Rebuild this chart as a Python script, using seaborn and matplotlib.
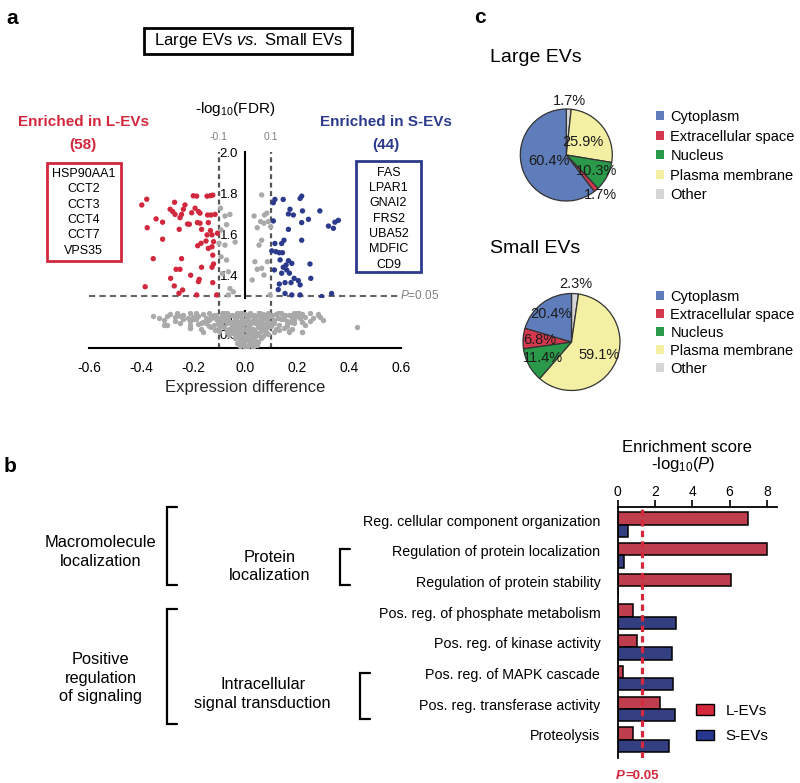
import numpy as np
import pandas as pd
import matplotlib
matplotlib.use("Agg")
import matplotlib.pyplot as plt
import matplotlib.transforms as mtransforms
from matplotlib import font_manager
from matplotlib.patches import Rectangle, Patch
from matplotlib.lines import Line2D
import seaborn as sns

# ---------------- data ----------------
# volcano plot (a): upper part (-log10 FDR > 1.3)
red_x = [-0.397, -0.378, -0.376, -0.342, -0.317, -0.317, -0.353, -0.384, -0.288, -0.278, -0.271, -0.269,
         -0.253, -0.250, -0.244, -0.237, -0.231, -0.244, -0.265, -0.250, -0.286, -0.272, -0.254, -0.240,
         -0.209, -0.221, -0.214, -0.199, -0.186, -0.205, -0.192, -0.179, -0.173, -0.183, -0.173, -0.167,
         -0.182, -0.169, -0.150, -0.176, -0.179, -0.167, -0.186, -0.146, -0.133, -0.124, -0.144, -0.131,
         -0.115, -0.141, -0.133, -0.146, -0.127, -0.106, -0.141, -0.127, -0.124, -0.121, -0.127, -0.124,
         -0.109, -0.121]
red_y = [1.743, 1.771, 1.632, 1.675, 1.659, 1.576, 1.481, 1.344, 1.722, 1.711, 1.756, 1.697,
         1.624, 1.681, 1.697, 1.722, 1.743, 1.481, 1.429, 1.429, 1.385, 1.348, 1.312, 1.328,
         1.400, 1.650, 1.649, 1.788, 1.786, 1.705, 1.727, 1.711, 1.703, 1.657, 1.654, 1.624,
         1.544, 1.556, 1.567, 1.380, 1.369, 1.439, 1.304, 1.786, 1.788, 1.791, 1.694, 1.694,
         1.697, 1.657, 1.618, 1.597, 1.597, 1.605, 1.531, 1.539, 1.498, 1.455, 1.439, 1.364,
         1.304, 1.564]
blue_x = [0.109, 0.115, 0.147, 0.212, 0.218, 0.173, 0.167, 0.186, 0.221, 0.244, 0.288, 0.218, 0.109,
          0.321, 0.340, 0.346, 0.359, 0.167, 0.218, 0.115, 0.150, 0.141, 0.103, 0.119, 0.132, 0.144,
          0.135, 0.167, 0.180, 0.158, 0.250, 0.147, 0.113, 0.160, 0.141, 0.171, 0.189, 0.205, 0.253,
          0.154, 0.132, 0.177, 0.212, 0.128, 0.154, 0.180, 0.212, 0.333, 0.295]
blue_y = [1.754, 1.770, 1.770, 1.775, 1.786, 1.722, 1.699, 1.694, 1.714, 1.673, 1.714, 1.657, 1.665,
          1.640, 1.629, 1.659, 1.668, 1.624, 1.571, 1.555, 1.571, 1.555, 1.519, 1.515, 1.510, 1.510,
          1.475, 1.471, 1.458, 1.450, 1.455, 1.439, 1.426, 1.426, 1.410, 1.410, 1.385, 1.374, 1.385,
          1.364, 1.357, 1.364, 1.353, 1.330, 1.311, 1.304, 1.304, 1.311, 1.296]
gray_up_x = [-0.094, -0.077, -0.058, -0.071, -0.092, -0.100, -0.077, -0.092, -0.071, -0.064, -0.087,
             -0.058, -0.045, -0.038, -0.064, 0.064, 0.035, 0.075, 0.084, 0.060, 0.073, 0.090, 0.047,
             0.099, 0.054, 0.064, 0.038, 0.047, 0.064, 0.073, 0.028, 0.086, 0.096]
gray_up_y = [1.727, 1.689, 1.697, 1.647, 1.621, 1.556, 1.547, 1.490, 1.474, 1.417, 1.408,
             1.335, 1.319, 1.562, 1.304, 1.792, 1.689, 1.694, 1.703, 1.662, 1.654, 1.662, 1.632,
             1.637, 1.547, 1.571, 1.466, 1.429, 1.434, 1.401, 1.377, 1.466, 1.304]

# lower part (-log10 FDR < 1.3), non-significant proteins
gray_lo_x_rows = [
    [-0.29, -0.26, -0.24, -0.21, -0.19, -0.16, -0.14, -0.12, -0.09, -0.07, -0.05, -0.03, 0.0, 0.02, 0.05,
     0.07, 0.09, 0.12, 0.14, 0.17, 0.19, 0.22, 0.25, 0.28],
    [-0.33, -0.30, -0.27, -0.25, -0.22, -0.20, -0.18, -0.15, -0.13, -0.10, -0.08, -0.06, -0.04, -0.02, 0.01,
     0.03, 0.06, 0.08, 0.10, 0.13, 0.15, 0.18, 0.20, 0.23, 0.26, 0.29],
    [-0.31, -0.27, -0.24, -0.21, -0.19, -0.16, -0.14, -0.11, -0.09, -0.07, -0.05, -0.03, -0.01, 0.01, 0.03,
     0.05, 0.07, 0.09, 0.11, 0.14, 0.16, 0.19, 0.22, 0.25],
    [-0.30, -0.25, -0.21, -0.18, -0.15, -0.12, -0.10, -0.07, -0.05, -0.03, -0.01, 0.0, 0.02, 0.04, 0.06,
     0.08, 0.11, 0.13, 0.16, 0.19, 0.23],
    [-0.21, -0.17, -0.13, -0.10, -0.08, -0.06, -0.04, -0.02, 0.0, 0.01, 0.03, 0.05, 0.07, 0.09, 0.12, 0.15, 0.18],
    [-0.16, -0.10, -0.07, -0.05, -0.03, -0.01, 0.01, 0.02, 0.04, 0.06, 0.08, 0.11, 0.17, 0.22],
    [-0.06, -0.04, -0.02, -0.01, 0.0, 0.02, 0.03, 0.05, 0.07, 0.09],
    [-0.04, -0.02, -0.01, 0.01, 0.02, 0.04, 0.06],
    [-0.03, -0.01, 0.0, 0.02, 0.03, 0.05],
    [-0.02, 0.0, 0.01, 0.03],
    [-0.353, -0.31, 0.43, 0.282, 0.30, 0.17, 0.22, -0.21],
    [-0.11, -0.085, -0.06, -0.035, -0.015, 0.01, 0.035, 0.055, 0.08, 0.105, 0.13, 0.155, 0.18, 0.205],
    [-0.20, -0.17, -0.13, -0.105, -0.08, -0.055, -0.035, -0.015, 0.005, 0.02, 0.04, 0.065, 0.085, 0.10,
     0.125, 0.15, 0.175, 0.21],
    [-0.14, -0.115, -0.09, -0.07, -0.05, -0.03, -0.015, 0.005, 0.015, 0.035, 0.055, 0.075, 0.10, 0.13, 0.16],
    [-0.05, -0.03, -0.015, 0.0, 0.015, 0.035, 0.045, 0.06, 0.08],
    [-0.02, 0.0, 0.015, 0.035, 0.045],
]
gray_lo_y_rows = [
    [1.24, 1.28, 1.22, 1.26, 1.29, 1.23, 1.27, 1.21, 1.25, 1.29, 1.22, 1.26, 1.24, 1.28, 1.21,
     1.25, 1.29, 1.23, 1.27, 1.22, 1.26, 1.24, 1.28, 1.21],
    [1.10, 1.16, 1.12, 1.18, 1.09, 1.14, 1.17, 1.11, 1.15, 1.08, 1.13, 1.17, 1.10, 1.15, 1.12,
     1.18, 1.09, 1.14, 1.16, 1.11, 1.17, 1.10, 1.15, 1.12, 1.08, 1.14],
    [1.02, 0.97, 1.04, 0.99, 1.05, 0.96, 1.01, 1.04, 0.98, 1.03, 0.95, 1.00, 1.05, 0.97, 1.02,
     0.99, 1.04, 0.96, 1.01, 1.05, 0.98, 1.03, 0.96, 1.00],
    [0.85, 0.90, 0.84, 0.88, 0.92, 0.83, 0.87, 0.91, 0.85, 0.89, 0.82, 0.90, 0.86, 0.92, 0.84,
     0.88, 0.91, 0.83, 0.87, 0.90, 0.85],
    [0.74, 0.70, 0.77, 0.72, 0.76, 0.69, 0.74, 0.78, 0.71, 0.75, 0.68, 0.77, 0.72, 0.75, 0.70, 0.74, 0.71],
    [0.60, 0.62, 0.57, 0.63, 0.59, 0.64, 0.56, 0.61, 0.58, 0.63, 0.60, 0.57, 0.62, 0.59],
    [0.48, 0.52, 0.45, 0.50, 0.43, 0.51, 0.46, 0.49, 0.44, 0.50],
    [0.35, 0.30, 0.38, 0.33, 0.37, 0.31, 0.36],
    [0.20, 0.15, 0.24, 0.18, 0.13, 0.22],
    [0.06, 0.02, 0.09, 0.04],
    [1.18, 0.84, 0.78, 1.23, 1.03, 0.60, 0.60, 0.74],
    [1.19, 1.30, 1.20, 1.19, 1.30, 1.19, 1.20, 1.30, 1.19, 1.21, 1.30, 1.19, 1.20, 1.30],
    [1.07, 0.93, 1.08, 0.93, 1.07, 0.92, 1.08, 0.93, 1.07, 0.94, 1.08, 0.93, 1.07, 0.93, 1.08, 1.07,
     0.94, 1.08],
    [0.80, 0.66, 0.81, 0.66, 0.80, 0.66, 0.80, 0.65, 0.81, 0.66, 0.80, 0.66, 0.79, 0.67, 0.80],
    [0.54, 0.40, 0.55, 0.41, 0.55, 0.40, 0.55, 0.41, 0.54],
    [0.27, 0.10, 0.28, 0.26, 0.11],
]
x_ticks = [-0.6, -0.4, -0.2, 0.0, 0.2, 0.4, 0.6]
x_tick_labels = ["-0.6", "-0.4", "-0.2", "0.0", "0.2", "0.4", "0.6"]
y_up_ticks = [1.4, 1.6, 1.8, 2.0]
y_lo_ticks = [0.5, 1.0]
l_genes = ["HSP90AA1", "CCT2", "CCT3", "CCT4", "CCT7", "VPS35"]
s_genes = ["FAS", "LPAR1", "GNAI2", "FRS2", "UBA52", "MDFIC", "CD9"]
n_l, n_s = 58, 44

# pie charts (c): wedge order clockwise from 12 o'clock
loc_names = ["Other", "Plasma membrane", "Nucleus", "Extracellular space", "Cytoplasm"]
legend_names = ["Cytoplasm", "Extracellular space", "Nucleus", "Plasma membrane", "Other"]
large_pct = [1.7, 25.9, 10.3, 1.7, 60.4]
small_pct = [2.3, 59.1, 11.4, 6.8, 20.4]

# GO enrichment (b)
terms = ["Reg. cellular component organization", "Regulation of protein localization",
         "Regulation of protein stability", "Pos. reg. of phosphate metabolism",
         "Pos. reg. of kinase activity", "Pos. reg. of MAPK cascade",
         "Pos. reg. transferase activity", "Proteolysis"]
score_l = [7.0, 8.0, 6.07, 0.84, 1.02, 0.27, 2.27, 0.80]
score_s = [0.57, 0.36, 0.0, 3.13, 2.90, 2.99, 3.08, 2.76]
bar_ticks = [0, 2, 4, 6, 8]
p_thresh = 1.3

# ---------------- style ----------------
sns.set_theme(style="white")
plt.rcParams["font.family"] = ["Liberation Sans", "DejaVu Sans"]
plt.rcParams["mathtext.fontset"] = "custom"
plt.rcParams["mathtext.rm"] = "Liberation Sans"
plt.rcParams["mathtext.it"] = "Liberation Sans:italic"
plt.rcParams["mathtext.bf"] = "Liberation Sans:bold"
plt.rcParams["axes.edgecolor"] = "black"
plt.rcParams["xtick.color"] = "black"
plt.rcParams["ytick.color"] = "black"
plt.rcParams["text.color"] = "black"

names = {f.name for f in font_manager.fontManager.ttflist}
HAS_NARROW = "Liberation Sans Narrow" in names
NARROW = ["Liberation Sans Narrow", "DejaVu Sans"] if HAS_NARROW else ["Liberation Sans", "DejaVu Sans"]
NS = 1.0 if HAS_NARROW else 0.82

RED = "#D2283E"
BLUE = "#2C3A8C"
GRAY = "#A9A9A9"
BAR_RED = "#D4283D"
BAR_BLUE = "#27368F"
PIE_COL = {"Cytoplasm": "#5E7DBA", "Extracellular space": "#D5384E", "Nucleus": "#2A9A4A",
           "Plasma membrane": "#F3EFA3", "Other": "#D6D6D6"}

W, H = 800, 783
fig = plt.figure(figsize=(W / 100, H / 100), dpi=100)


def fx(x):
    return x / W


def fy(y):
    return 1 - y / H


def fbox(x0, y0, x1, y1):
    return [x0 / W, 1 - y1 / H, (x1 - x0) / W, (y1 - y0) / H]


def ftext(x, y, s, **kw):
    return fig.text(fx(x), fy(y), s, **kw)


def fline(xs, ys, **kw):
    fig.add_artist(Line2D([fx(v) for v in xs], [fy(v) for v in ys], transform=fig.transFigure, **kw))


def frect(x0, y0, x1, y1, **kw):
    fig.add_artist(Rectangle((fx(x0), fy(y1)), (x1 - x0) / W, (y1 - y0) / H,
                             transform=fig.transFigure, fill=False, **kw))


# ---------------- panel a: volcano ----------------
UP_TOP, UP_BOT, LO_TOP, LO_BOT = 152.3, 298.0, 311.0, 348.0
up = fig.add_axes(fbox(89, UP_TOP, 401, UP_BOT))
lo = fig.add_axes(fbox(89, LO_TOP, 401, LO_BOT))

df_up = pd.DataFrame({
    "x": gray_up_x + red_x + blue_x,
    "y": gray_up_y + red_y + blue_y,
    "grp": ["n"] * len(gray_up_x) + ["L"] * len(red_x) + ["S"] * len(blue_x),
})
sns.scatterplot(data=df_up, x="x", y="y", hue="grp", palette={"n": GRAY, "L": RED, "S": BLUE},
                s=15, linewidth=0, legend=False, ax=up, zorder=3)
lo_x = sum(gray_lo_x_rows, [])
lo_y = sum(gray_lo_y_rows, [])
df_lo = pd.DataFrame({"x": lo_x, "y": lo_y})
sns.scatterplot(data=df_lo, x="x", y="y", color=GRAY, s=15, linewidth=0, legend=False, ax=lo, zorder=3)

for ax in (up, lo):
    ax.set_xlim(-0.6, 0.6)
    ax.patch.set_alpha(0)
    ax.set_xlabel("")
    ax.set_ylabel("")
    ax.spines["top"].set_visible(False)
    ax.spines["right"].set_visible(False)
    ax.spines["left"].set_position(("data", 0))
    ax.spines["left"].set_linewidth(1.5)
up.set_ylim(1.289, 2.0)
lo.set_ylim(0, 1.35)
up.spines["bottom"].set_visible(False)
up.set_xticks([])
up.set_yticks(y_up_ticks, labels=[f"{v:.1f}" for v in y_up_ticks])
lo.set_yticks(y_lo_ticks, labels=[f"{v:.1f}" for v in y_lo_ticks])
lo.set_xticks(x_ticks, labels=x_tick_labels)
lo.spines["bottom"].set_linewidth(1.5)
for ax in (up, lo):
    ax.tick_params(axis="y", direction="inout", length=8, width=1.3, labelsize=9.5, pad=1)
lo.tick_params(axis="x", direction="out", length=6, width=1.3, labelsize=10, pad=3)
lo.set_xlabel("Expression difference", fontsize=12, labelpad=4)

# threshold lines
ext = (LO_BOT - UP_BOT) / (UP_BOT - UP_TOP)
trans_up = mtransforms.blended_transform_factory(up.transData, up.transAxes)
for v in (-0.1, 0.1):
    up.axvline(v, ymin=-ext, ymax=1, clip_on=False, color="#555555", lw=1.6, dashes=(2.2, 1.6), zorder=2)
    up.text(v, 1.0 + (UP_TOP - 137.5) / (UP_BOT - UP_TOP), f"{v:.1f}", transform=trans_up,
            ha="center", va="center", fontsize=7.5, color="#808080")
up.hlines(p_thresh, -0.6, 0.59, color="#666666", lw=1.5, linestyles=(0, (3.0, 2.0)), zorder=2, clip_on=False)
up.text(0.595, p_thresh, r"$\it{P}$=0.05", ha="left", va="center", fontsize=8.5, color="#808080")
ftext(235.5, 109, r"-log$_{10}$(FDR)", ha="center", va="center", fontsize=11)

# title & annotations
ftext(248.2, 41, r"Large EVs $\it{vs.}$ Small EVs", ha="center", va="center", fontsize=12)
frect(144, 28.3, 352.3, 53.5, ec="black", lw=2)
ENR = 12.6 * (1.0 if HAS_NARROW else 0.87)
ftext(83.3, 122, "Enriched in L-EVs", ha="center", va="center", fontsize=ENR,
      fontweight="bold", color=RED, family=NARROW)
ftext(83.3, 145, f"({n_l})", ha="center", va="center", fontsize=ENR, fontweight="bold",
      color=RED, family=NARROW)
ftext(386, 122, "Enriched in S-EVs", ha="center", va="center", fontsize=ENR,
      fontweight="bold", color=BLUE, family=NARROW)
ftext(386, 145, f"({n_s})", ha="center", va="center", fontsize=ENR, fontweight="bold",
      color=BLUE, family=NARROW)
frect(46.7, 162.7, 120.7, 261, ec=RED, lw=2)
for i, g in enumerate(l_genes):
    ftext(83.7, 174 + i * 15.3, g, ha="center", va="center", fontsize=9)
frect(356, 161, 421, 272.3, ec=BLUE, lw=2)
for i, g in enumerate(s_genes):
    ftext(388.5, 172.5 + i * 15.4, g, ha="center", va="center", fontsize=9)

# ---------------- panel c: pies ----------------
def draw_pie(box, pct, dists, title_y, title, leg_top, leg_ls):
    ax = fig.add_axes(fbox(*box))
    wedges, _ = ax.pie(pct, colors=[PIE_COL[n] for n in loc_names], startangle=90, counterclock=False,
                       wedgeprops=dict(edgecolor="#333333", linewidth=0.9))
    ax.set_xlim(-1, 1)
    ax.set_ylim(-1, 1)
    ax.set_aspect("equal")
    for w, p, d in zip(wedges, pct, dists):
        ang = np.deg2rad((w.theta1 + w.theta2) / 2)
        ax.text(d * np.cos(ang), d * np.sin(ang), f"{p:.1f}%", ha="center", va="center",
                fontsize=10.5, color="#1b1b1b")
    ftext(490, title_y, title, ha="left", va="center", fontsize=14)
    handles = [Patch(facecolor=PIE_COL[n], edgecolor="none", label=n) for n in legend_names]
    ax.legend(handles=handles, loc="upper left", bbox_to_anchor=(fx(656), fy(leg_top)),
              bbox_transform=fig.transFigure, frameon=False, fontsize=10.5, handlelength=0.58,
              handleheight=0.58, handletextpad=0.4, labelspacing=leg_ls, borderpad=0, borderaxespad=0)


draw_pie((520.3, 109, 612.3, 201), large_pct, [1.17, 0.45, 0.75, 1.15, 0.40], 58, "Large EVs", 110, 0.38)
draw_pie((523, 293.5, 620, 390.5), small_pct, [1.19, 0.62, 0.68, 0.66, 0.72], 248, "Small EVs", 289.5, 0.28)

# ---------------- panel b: GO bars ----------------
bx = fig.add_axes(fbox(617.7, 507, 776.7, 758))
df_bar = pd.DataFrame({
    "term": terms * 2,
    "score": score_l + score_s,
    "group": ["L-EVs"] * len(terms) + ["S-EVs"] * len(terms),
})
sns.barplot(data=df_bar, y="term", x="score", hue="group", order=terms, hue_order=["L-EVs", "S-EVs"],
            orient="y", palette={"L-EVs": BAR_RED, "S-EVs": BAR_BLUE}, edgecolor="black", linewidth=1.1,
            width=0.8, legend=False, ax=bx)
bx.set_xlim(0, 8.53)
bx.set_ylim(7.6, -0.575)
bx.set_xlabel("")
bx.set_ylabel("")
bx.patch.set_alpha(0)
bx.spines["right"].set_visible(False)
bx.spines["bottom"].set_visible(False)
bx.spines["top"].set_linewidth(1.3)
bx.spines["left"].set_linewidth(1.3)
bx.xaxis.set_ticks_position("top")
bx.set_xticks(bar_ticks, labels=[str(t) for t in bar_ticks])
bx.tick_params(axis="x", direction="out", length=5, width=1.2, labelsize=10, pad=1)
bx.set_yticks(np.arange(len(terms)) - 0.15, labels=terms)
bx.tick_params(axis="y", length=0, pad=12.5)
for lab in bx.get_yticklabels():
    lab.set_fontsize(12.5 * NS)
    lab.set_family(NARROW)
bx.axvline(p_thresh, color=BAR_RED, lw=2.3, dashes=(2.0, 1.3), zorder=5)
bx.legend(handles=[Patch(facecolor=BAR_RED, edgecolor="black", linewidth=1, label="L-EVs"),
                   Patch(facecolor=BAR_BLUE, edgecolor="black", linewidth=1, label="S-EVs")],
          loc="upper left", bbox_to_anchor=(fx(696), fy(704)), bbox_transform=fig.transFigure,
          frameon=False, fontsize=11, handlelength=1.15, handleheight=0.7, handletextpad=0.8,
          labelspacing=0.75, borderpad=0, borderaxespad=0)
ftext(687, 448, "Enrichment score", ha="center", va="center", fontsize=12)
ftext(683, 465, r"-log$_{10}$($\it{P}$)", ha="center", va="center", fontsize=12)
ftext(624.5, 776, "P", ha="right", va="center", fontsize=9.5, fontweight="bold", fontstyle="italic", color=BAR_RED)
ftext(625, 776, "=0.05", ha="left", va="center", fontsize=9.5, fontweight="bold", color=BAR_RED)

# hierarchy labels and brackets
ftext(100.7, 552, "Macromolecule\nlocalization", ha="center", va="center", fontsize=11.8, linespacing=1.3)
ftext(269.5, 566.5, "Protein\nlocalization", ha="center", va="center", fontsize=11.8, linespacing=1.3)
ftext(100.7, 678, "Positive\nregulation\nof signaling", ha="center", va="center", fontsize=11.8,
      linespacing=1.3)
ftext(262.7, 694, "Intracellular\nsignal transduction", ha="center", va="center", fontsize=11.8,
      linespacing=1.3)
for (x0, x1, y0, y1) in [(167, 177, 507, 585), (339.5, 349.5, 548.5, 584.5),
                         (167, 177, 608.5, 724), (360, 369.5, 673, 719)]:
    fline([x1, x0, x0, x1], [y0, y0, y1, y1], color="black", lw=1.6, solid_joinstyle="miter")

# panel letters
ftext(12.5, 18, "a", ha="center", va="center", fontsize=15, fontweight="bold")
ftext(480, 17.5, "c", ha="center", va="center", fontsize=15, fontweight="bold")
ftext(10, 467, "b", ha="center", va="center", fontsize=15, fontweight="bold")

fig.savefig("out.png", dpi=100)
